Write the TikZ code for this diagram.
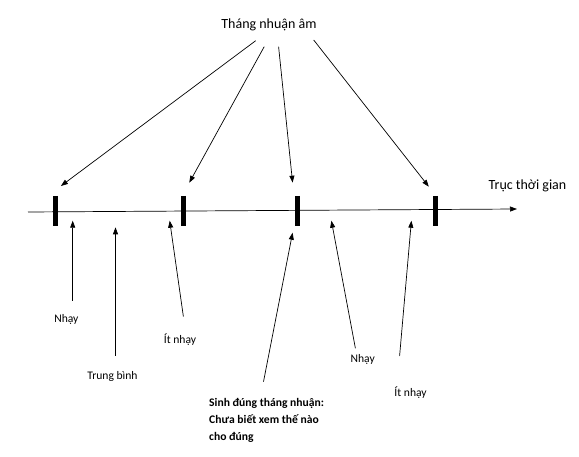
\documentclass[tikz,border=0pt]{standalone}
\usepackage{fontspec}
\setmainfont{Carlito}
\usetikzlibrary{arrows.meta}
\tikzset{
  ptr/.style={line width=0.7pt,-{Triangle[length=7pt,width=5pt]}},
  lbl/.style={inner sep=0pt,font=\fontsize{11.6}{14}\selectfont},
  biglbl/.style={inner sep=0pt,font=\fontsize{14}{17}\selectfont},
  tick/.style={line width=4.5pt},
}
\begin{document}
\begin{tikzpicture}[x=1pt,y=-1pt]
\useasboundingbox (0,0) rectangle (579,457);
% axis
\coordinate (ax0) at (28,212);
\coordinate (ax1) at (517,209);
\draw[ptr] (ax0) -- (ax1);
\node[biglbl] (axis) at (527.5,186) {Trục thời gian};
% ticks
\coordinate (t1a) at (55.7,196); \coordinate (t1b) at (55.7,226);
\coordinate (t2a) at (183.4,196); \coordinate (t2b) at (183.4,226);
\coordinate (t3a) at (297.4,196); \coordinate (t3b) at (297.4,226);
\coordinate (t4a) at (435.4,196); \coordinate (t4b) at (435.4,226);
\draw[tick] (t1a) -- (t1b);
\draw[tick] (t2a) -- (t2b);
\draw[tick] (t3a) -- (t3b);
\draw[tick] (t4a) -- (t4b);
% top label and arrows
\node[biglbl] (top) at (269,25) {Tháng nhuận âm};
\coordinate (s1) at (255.7,40.7); \coordinate (e1) at (60.9,186);
\coordinate (s2) at (264.2,46.7); \coordinate (e2) at (189.3,182.7);
\coordinate (s3) at (278.6,46.7); \coordinate (e3) at (292.6,182.7);
\coordinate (s4) at (313.7,40); \coordinate (e4) at (428.8,186.7);
\draw[ptr] (s1) -- (e1);
\draw[ptr] (s2) -- (e2);
\draw[ptr] (s3) -- (e3);
\draw[ptr] (s4) -- (e4);
% bottom arrows
\coordinate (ba) at (72.7,300.7); \coordinate (ha) at (72.7,220.7);
\coordinate (bb) at (115.5,355.7); \coordinate (hb) at (115.5,227.3);
\coordinate (bc) at (183.4,316.7); \coordinate (hc) at (169.7,220.7);
\coordinate (bd) at (263.5,381.7); \coordinate (hd) at (292.6,232.7);
\coordinate (be) at (355.4,348.3); \coordinate (he) at (331.4,220.7);
\coordinate (bf) at (399.6,356); \coordinate (hf) at (411.4,220.7);
\draw[ptr] (ba) -- (ha);
\draw[ptr] (bb) -- (hb);
\draw[ptr] (bc) -- (hc);
\draw[ptr] (bd) -- (hd);
\draw[ptr] (be) -- (he);
\draw[ptr] (bf) -- (hf);
% bottom labels
\node[lbl] (la) at (66.4,319) {Nhạy};
\node[lbl] (lb) at (112.5,376.7) {Trung bình};
\node[lbl] (lc) at (180,340) {Ít nhạy};
\node[lbl] (le) at (362.7,359.3) {Nhạy};
\node[lbl] (lf) at (410.6,392.3) {Ít nhạy};
\node[lbl,font=\bfseries\fontsize{11.6}{16.8}\selectfont,align=left,anchor=north west] (ld) at (209,398.5)
  {Sinh đúng tháng nhuận:\\Chưa biết xem thế nào\\cho đúng};
\end{tikzpicture}
\end{document}
